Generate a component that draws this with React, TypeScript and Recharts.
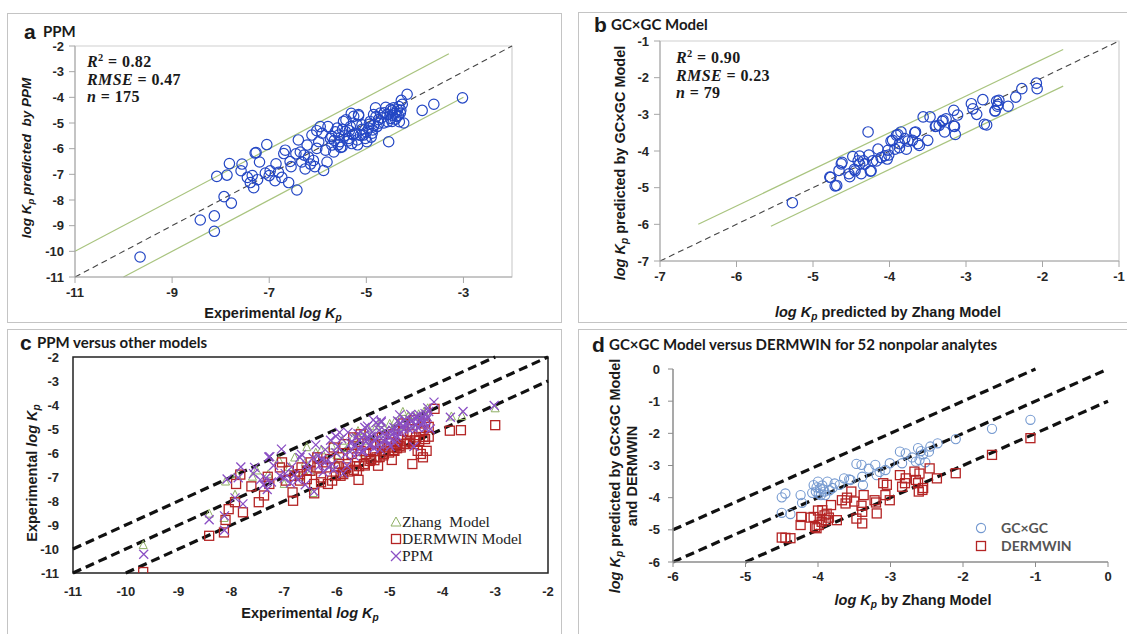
import React from 'react'
import { ScatterChart, Scatter, XAxis, YAxis, ReferenceLine, ReferenceArea } from 'recharts'

type Pt = [number, number]

// panel a: experimental log Kp vs PPM prediction (also the x series of panel c)
const ppmPoints: Pt[] = [
  [-9.66, -10.22], [-8.42, -8.78], [-8.13, -8.62], [-8.13, -9.22], [-7.93, -7.87], [-7.78, -8.12],
  [-8.08, -7.08], [-7.87, -7.03], [-7.82, -6.58], [-7.56, -6.6], [-7.58, -6.86], [-7.45, -7.12],
  [-7.39, -7.32], [-7.32, -7.52], [-7.24, -7.21], [-7.2, -6.52], [-7.29, -6.17], [-7.05, -5.84],
  [-6.98, -6.86], [-6.86, -6.59], [-6.81, -6.92], [-6.88, -7.25], [-6.74, -7.12], [-6.7, -6.19],
  [-6.67, -6.06], [-6.6, -7.32], [-6.57, -6.5], [-6.43, -7.61], [-6.4, -5.66], [-6.36, -6.13],
  [-6.33, -6.52], [-6.26, -6.79], [-6.22, -5.86], [-6.19, -6.33], [-6.12, -5.47], [-6.09, -6.46],
  [-6.02, -5.99], [-5.98, -5.73], [-5.95, -5.14], [-5.91, -5.4], [-5.88, -6.85], [-5.84, -6.06],
  [-5.81, -6.52], [-5.74, -5.6], [-5.71, -5.86], [-5.67, -6.13], [-5.6, -5.2], [-5.57, -5.47],
  [-5.54, -5.73], [-5.5, -5.93], [-5.47, -4.94], [-5.43, -5.33], [-5.36, -5.6], [-5.33, -5.14],
  [-5.3, -5.8], [-5.26, -4.74], [-5.23, -5.4], [-5.19, -5.66], [-5.16, -4.67], [-5.09, -5.07],
  [-5.06, -5.47], [-4.99, -5.73], [-4.95, -5.2], [-4.92, -4.94], [-4.88, -5.4], [-4.85, -4.67],
  [-4.81, -4.41], [-4.78, -5.14], [-4.75, -4.87], [-4.71, -4.61], [-4.64, -5.0], [-4.57, -4.67],
  [-4.54, -5.73], [-4.5, -4.47], [-4.47, -4.94], [-4.44, -4.41], [-4.37, -4.74], [-4.3, -4.61],
  [-4.26, -4.27], [-4.23, -5.0], [-3.85, -4.51], [-3.61, -4.27], [-4.16, -3.88], [-4.28, -4.12],
  [-3.02, -4.02], [-4.33, -4.36], [-4.32, -4.95], [-4.41, -4.62], [-4.47, -4.52], [-4.5, -4.82],
  [-4.6, -4.39], [-4.74, -5.01], [-4.8, -4.75], [-4.87, -5.27], [-4.94, -5.05], [-5.02, -5.6],
  [-5.09, -5.25], [-5.16, -4.72], [-5.2, -5.05], [-5.28, -5.45], [-5.31, -4.62], [-5.38, -5.7],
  [-5.42, -4.88], [-5.49, -5.25], [-5.53, -5.95], [-5.64, -5.34], [-5.71, -5.53], [-5.79, -5.14],
  [-4.36, -4.48], [-4.4, -4.85], [-4.34, -4.7], [-4.29, -4.5], [-4.46, -4.7], [-4.56, -4.95],
  [-4.63, -4.6], [-4.69, -4.8], [-4.85, -5.1], [-4.9, -5.55], [-5.0, -5.35], [-5.12, -5.48],
  [-5.18, -5.85], [-5.35, -5.3], [-5.45, -5.5], [-5.58, -5.85], [-5.66, -5.68], [-6.02, -5.3],
  [-6.06, -6.7], [-6.15, -6.6], [-6.28, -6.25], [-6.45, -6.2], [-6.55, -6.7], [-7.0, -7.05],
  [-7.08, -6.95], [-7.35, -7.05], [-7.27, -6.15],
]

// panel b: Zhang model vs GCxGC model
const gcxgcPoints: Pt[] = [
  [-5.27, -5.41], [-4.78, -4.71], [-4.71, -4.95], [-4.66, -4.53], [-4.63, -4.35], [-4.53, -4.62],
  [-4.48, -4.15], [-4.46, -4.5], [-4.41, -4.27], [-4.39, -4.14], [-4.37, -4.62], [-4.32, -4.35],
  [-4.28, -3.48], [-4.27, -4.11], [-4.25, -4.55], [-4.22, -4.27], [-4.15, -3.95], [-4.11, -4.18],
  [-4.03, -4.22], [-4.01, -4.11], [-3.96, -3.71], [-3.93, -3.95], [-3.91, -3.57], [-3.87, -3.8],
  [-3.85, -3.48], [-3.8, -3.66], [-3.78, -3.95], [-3.7, -3.71], [-3.66, -3.48], [-3.63, -3.8],
  [-3.61, -3.85], [-3.5, -3.71], [-3.56, -3.07], [-3.47, -3.07], [-3.4, -3.33], [-3.35, -3.3],
  [-3.3, -3.16], [-3.28, -3.48], [-3.26, -3.12], [-3.16, -2.89], [-3.15, -3.33], [-3.14, -3.55],
  [-3.11, -3.02], [-2.93, -2.71], [-2.91, -2.85], [-2.86, -3.0], [-2.78, -2.6], [-2.76, -3.27],
  [-2.73, -3.29], [-2.62, -2.91], [-2.59, -2.78], [-2.57, -2.62], [-2.45, -2.78], [-2.35, -2.53],
  [-2.27, -2.3], [-2.08, -2.15], [-2.07, -2.3], [-4.62, -4.31], [-4.52, -4.7], [-4.45, -4.54],
  [-4.39, -4.36], [-4.34, -4.27], [-4.24, -4.54], [-4.17, -4.27], [-4.06, -4.13], [-4.02, -3.98],
  [-3.98, -3.73], [-3.89, -3.55], [-3.87, -3.91], [-3.76, -3.73], [-3.67, -3.5], [-3.39, -3.32],
  [-3.31, -3.19], [-3.16, -3.32], [-2.6, -2.64], [-2.58, -2.73], [-2.62, -2.9], [-4.69, -4.94],
  [-4.77, -4.72],
]

// panel c: Zhang model and DERMWIN against experimental
const zhangPointsC: Pt[] = [
  [-9.67, -9.85], [-8.42, -8.54], [-8.14, -8.72], [-7.93, -7.75], [-8.11, -7.2], [-6.57, -5.77],
  [-6.45, -7.68], [-3.83, -4.49], [-3.63, -4.47], [-3.0, -4.15], [-5.18, -4.77], [-7.52, -6.74],
  [-7.6, -7.0], [-7.3, -6.9], [-7.1, -6.3], [-6.9, -6.6], [-6.8, -6.2], [-6.6, -6.4], [-6.4, -6.0],
  [-6.3, -5.9], [-6.2, -6.3], [-6.1, -5.7], [-6.0, -6.1], [-5.9, -5.5], [-5.8, -5.8], [-5.7, -5.4],
  [-5.6, -5.7], [-5.5, -5.2], [-5.45, -5.5], [-5.4, -5.0], [-5.3, -5.35], [-5.25, -4.9], [-5.1, -5.2],
  [-5.0, -4.8], [-4.95, -5.1], [-4.9, -4.7], [-4.85, -5.0], [-4.8, -4.6], [-4.7, -4.9], [-4.65, -4.5],
  [-4.6, -4.8], [-4.55, -4.45], [-4.5, -4.7], [-4.45, -4.4], [-4.4, -4.6], [-4.35, -4.3], [-4.3, -4.5],
  [-4.28, -4.15], [-6.7, -7.0], [-6.5, -6.8], [-6.0, -6.5], [-5.5, -6.0], [-7.9, -6.9], [-7.0, -7.3],
  [-5.2, -5.6], [-5.6, -5.1], [-4.75, -4.3],
]

const dermwinPointsC: Pt[] = [
  [-9.67, -10.96], [-8.42, -9.45], [-8.14, -9.31], [-8.11, -8.79], [-8.05, -8.34], [-7.93, -8.05],
  [-7.78, -8.47], [-7.83, -6.9], [-7.91, -7.29], [-7.62, -7.39], [-7.48, -8.05], [-7.38, -7.77],
  [-7.28, -7.29], [-7.31, -6.99], [-7.04, -6.39], [-6.97, -7.15], [-6.84, -7.64], [-6.83, -7.99],
  [-6.7, -6.88], [-6.57, -7.09], [-6.43, -7.68], [-6.3, -7.02], [-6.2, -6.6], [-6.09, -7.15],
  [-5.89, -6.81], [-5.59, -7.12], [-5.49, -6.46], [-5.35, -6.25], [-5.22, -6.53], [-5.08, -5.91],
  [-4.96, -6.29], [-4.88, -5.63], [-4.74, -5.08], [-4.57, -6.46], [-4.54, -5.63], [-4.37, -6.18],
  [-4.33, -5.42], [-4.15, -4.16], [-3.86, -5.07], [-3.65, -5.05], [-3.0, -4.84],
  [-6.67, -6.6], [-6.5, -6.74], [-6.37, -6.6], [-6.26, -6.39], [-6.13, -6.25], [-6.03, -6.6],
  [-5.96, -6.18], [-5.79, -6.46], [-5.72, -6.04], [-5.62, -6.18], [-5.55, -5.91], [-5.45, -6.04],
  [-5.42, -5.63], [-5.31, -5.91], [-5.25, -6.18], [-5.18, -5.63], [-5.11, -6.04], [-5.04, -5.77],
  [-4.98, -5.56], [-4.91, -5.91], [-4.84, -5.35], [-4.81, -5.7], [-4.67, -5.49], [-4.61, -5.22],
  [-4.5, -5.35], [-4.47, -5.91], [-4.4, -5.08], [-4.33, -4.77], [-4.3, -5.91], [-4.41, -6.04],
  [-5.62, -6.74], [-5.93, -6.95], [-6.17, -7.29], [-6.3, -7.22], [-6.43, -7.29], [-6.57, -6.74],
  [-6.7, -7.15], [-6.8, -6.95], [-6.91, -6.74], [-7.08, -6.6], [-5.96, -6.46], [-5.82, -6.6],
  [-5.28, -5.63], [-5.15, -5.35], [-4.94, -5.22], [-4.74, -4.77], [-4.54, -4.63], [-4.26, -4.91],
  [-4.26, -5.32], [-6.06, -5.77], [-5.86, -5.63], [-5.69, -5.35], [-5.55, -5.22], [-6.37, -6.18],
  [-6.5, -6.39], [-6.02, -6.93], [-5.88, -6.88], [-5.78, -6.77], [-5.68, -6.7], [-5.58, -6.55],
  [-5.47, -6.52], [-5.38, -6.33], [-5.29, -6.3], [-5.19, -6.17], [-5.12, -6.1], [-5.01, -5.98],
  [-4.93, -5.88], [-4.86, -5.8], [-4.79, -5.77], [-4.73, -5.63], [-4.68, -5.61], [-4.62, -5.52],
  [-4.52, -5.47], [-4.44, -5.5], [-4.36, -5.33],
]

// panel d: 52 nonpolar analytes
const gcxgcPointsD: Pt[] = [
  [-4.5, -3.99], [-4.45, -3.87], [-4.5, -4.47], [-4.38, -4.51], [-4.24, -3.92], [-4.22, -4.16],
  [-4.06, -3.61], [-4.03, -3.81], [-4.0, -3.5], [-3.97, -3.71], [-3.96, -3.92], [-3.91, -3.81],
  [-3.87, -3.5], [-3.84, -3.77], [-3.77, -3.56], [-3.64, -3.4], [-3.57, -3.43], [-3.47, -2.95],
  [-3.4, -2.98], [-3.39, -3.35], [-3.38, -3.61], [-3.21, -2.98], [-3.19, -3.3], [-3.07, -3.14],
  [-3.01, -2.93], [-2.87, -2.57], [-2.84, -2.93], [-2.79, -2.62], [-2.62, -2.46], [-2.65, -2.88],
  [-2.6, -2.83], [-2.47, -2.57], [-2.45, -2.41], [-2.35, -2.31], [-2.1, -2.18], [-1.6, -1.86],
  [-1.07, -1.58], [-4.02, -3.68], [-3.99, -3.88], [-3.94, -3.62], [-3.9, -3.92], [-3.93, -3.74],
  [-4.08, -3.85], [-3.8, -3.7], [-3.7, -3.6], [-3.55, -3.45], [-2.7, -2.75], [-2.55, -2.65],
  [-2.52, -2.9], [-2.58, -2.55], [-3.3, -3.1], [-3.15, -3.2],
]

const dermwinPointsD: Pt[] = [
  [-4.5, -5.24], [-4.38, -5.26], [-4.23, -4.6], [-4.24, -4.85], [-4.06, -4.6], [-4.04, -4.91],
  [-3.99, -4.85], [-3.94, -4.39], [-3.91, -4.55], [-3.89, -4.7], [-3.82, -4.23], [-3.74, -4.7],
  [-3.67, -4.08], [-3.62, -4.18], [-3.54, -3.81], [-3.47, -4.65], [-3.39, -4.44], [-3.39, -4.8],
  [-3.37, -3.92], [-3.22, -4.08], [-3.19, -4.49], [-3.1, -3.55], [-3.07, -3.92], [-3.01, -4.08],
  [-2.87, -3.3], [-2.84, -3.66], [-2.79, -3.4], [-2.67, -3.19], [-2.65, -3.45], [-2.61, -3.81],
  [-2.56, -3.76], [-2.46, -3.09], [-2.36, -3.4], [-2.1, -3.24], [-1.6, -2.67], [-1.07, -2.15],
  [-4.1, -4.62], [-4.02, -4.95], [-3.95, -4.75], [-3.88, -4.5], [-3.85, -4.62], [-4.0, -4.4],
  [-3.6, -4.0], [-3.5, -4.12], [-3.4, -4.25], [-3.2, -4.15], [-2.8, -3.55], [-2.62, -3.55],
  [-2.6, -3.25], [-2.55, -3.7], [-3.05, -3.6], [-4.45, -5.25],
]

const ticksAX = [-11, -9, -7, -5, -3]
const ticksAY = [-11, -10, -9, -8, -7, -6, -5, -4, -3, -2]
const ticksB = [-7, -6, -5, -4, -3, -2, -1]
const ticksC = [-11, -10, -9, -8, -7, -6, -5, -4, -3, -2]
const ticksD = [-6, -5, -4, -3, -2, -1, 0]

const toXY = (pts: Pt[]) => pts.map(([x, y]) => ({ x, y }))

const SANS = '"Liberation Sans", Arial, sans-serif'
const CAL = 'Lato, "Open Sans", sans-serif'
const SERIF = '"Liberation Serif", "DejaVu Serif", serif'

const tickFont = { fontSize: 13, fontWeight: 700, fill: '#262626', fontFamily: SANS }

const circle = (r: number, color: string, w = 1.2) => (p: any) =>
  <circle cx={p.cx} cy={p.cy} r={r} fill="none" stroke={color} strokeWidth={w} />
const square = (s: number, color: string) => (p: any) =>
  <rect x={p.cx - s / 2} y={p.cy - s / 2} width={s} height={s} fill="none" stroke={color} strokeWidth={1.3} />
const triangle = (s: number, color: string) => (p: any) =>
  <path d={`M${p.cx},${p.cy - s * 0.6}L${p.cx + s / 2},${p.cy + s * 0.4}L${p.cx - s / 2},${p.cy + s * 0.4}Z`} fill="none" stroke={color} strokeWidth={1} />
const cross = (s: number, color: string) => (p: any) => (
  <path d={`M${p.cx - s / 2},${p.cy - s / 2}L${p.cx + s / 2},${p.cy + s / 2}M${p.cx + s / 2},${p.cy - s / 2}L${p.cx - s / 2},${p.cy + s / 2}`} stroke={color} strokeWidth={1.3} />
)

const Kp = () => (
  <span>K<span style={{ fontSize: '0.7em', position: 'relative', top: '0.3em' }}>p</span></span>
)

// centred text, optionally turned to read bottom-to-top
const Label = ({ x, y, size = 15, rotate = false, style = {}, children }: any) => (
  <div style={{
    position: 'absolute', left: x, top: y, whiteSpace: 'nowrap', fontSize: size, lineHeight: 1.15,
    transform: `translate(-50%, -50%)${rotate ? ' rotate(-90deg)' : ''}`, fontFamily: SANS, fontWeight: 700,
    color: '#1a1a1a', textAlign: 'center', ...style,
  }}>{children}</div>
)

// left-aligned text, vertically centred on y
const Left = ({ x, y, size = 15, style = {}, children }: any) => (
  <div style={{
    position: 'absolute', left: x, top: y, transform: 'translateY(-50%)', whiteSpace: 'nowrap',
    fontSize: size, lineHeight: 1.15, color: '#1a1a1a', ...style,
  }}>{children}</div>
)

const Stats = ({ x, y, r2, rmse, n }: any) => {
  const st = { fontFamily: SERIF, fontWeight: 700, fontSize: 16, letterSpacing: 0.4 }
  return (
    <>
      <Left x={x} y={y} style={st}><i>R</i><sup style={{ fontSize: '0.65em' }}>2</sup> = {r2}</Left>
      <Left x={x} y={y + 18} style={st}><i>RMSE</i> = {rmse}</Left>
      <Left x={x} y={y + 35} style={st}><i>n</i> = {n}</Left>
    </>
  )
}

const Title = ({ x, y, letter, text }: any) => (
  <>
    <Left x={x} y={y} size={21} style={{ fontFamily: SANS, fontWeight: 700 }}>{letter}</Left>
    <Left x={x + (letter === 'a' ? 19 : 17)} y={y} size={15} style={{ fontFamily: CAL, fontWeight: 700 }}>{text}</Left>
  </>
)

const box = (left: number, top: number, width: number, height: number) => ({
  position: 'absolute' as const, left, top, width, height, boxSizing: 'border-box' as const,
  border: '1.5px solid #c4c4c4',
})

const PanelA = () => (
  <div style={{ position: 'absolute', left: 7, top: 13 }}>
    <ScatterChart width={551} height={310} margin={{ top: 33, right: 46, bottom: 16, left: 28 }}>
      <XAxis type="number" dataKey="x" domain={[-11, -2]} ticks={ticksAX} interval={0} allowDataOverflow
        tick={tickFont} tickSize={6} tickMargin={5} height={30} axisLine={{ stroke: '#a6a6a6' }} tickLine={{ stroke: '#a6a6a6' }} />
      <YAxis type="number" dataKey="y" domain={[-11, -2]} ticks={ticksAY} interval={0} allowDataOverflow
        tick={tickFont} tickSize={6} tickMargin={5} width={40} axisLine={{ stroke: '#a6a6a6' }} tickLine={{ stroke: '#a6a6a6' }} />
      <ReferenceArea x1={-11} x2={-2} y1={-11} y2={-2} fill="none" stroke="#cfcfcf" strokeWidth={1.2} />
      <ReferenceLine segment={[{ x: -11, y: -10 }, { x: -3.3, y: -2.3 }]} stroke="#a9c47f" strokeWidth={1.2} />
      <ReferenceLine segment={[{ x: -10, y: -11 }, { x: -3, y: -4 }]} stroke="#a9c47f" strokeWidth={1.2} />
      <ReferenceLine segment={[{ x: -11, y: -11 }, { x: -2, y: -2 }]} stroke="#444" strokeWidth={1.1} strokeDasharray="6 4" />
      <Scatter data={toXY(ppmPoints)} shape={circle(5.2, '#2447c4')} isAnimationActive={false} />
    </ScatterChart>
  </div>
)

const PanelB = () => (
  <div style={{ position: 'absolute', left: 578, top: 12 }}>
    <ScatterChart width={549} height={311} margin={{ top: 29, right: 8, bottom: 32, left: 42 }}>
      <XAxis type="number" dataKey="x" domain={[-7, -1]} ticks={ticksB} interval={0} allowDataOverflow
        tick={tickFont} tickSize={6} tickMargin={5} height={30} axisLine={{ stroke: '#a6a6a6' }} tickLine={{ stroke: '#a6a6a6' }} />
      <YAxis type="number" dataKey="y" domain={[-7, -1]} ticks={ticksB} interval={0} allowDataOverflow
        tick={tickFont} tickSize={6} tickMargin={5} width={40} axisLine={{ stroke: '#a6a6a6' }} tickLine={{ stroke: '#a6a6a6' }} />
      <ReferenceArea x1={-7} x2={-1} y1={-7} y2={-1} fill="none" stroke="#cfcfcf" strokeWidth={1.2} />
      <ReferenceLine segment={[{ x: -6.5, y: -6 }, { x: -1.73, y: -1.23 }]} stroke="#a9c47f" strokeWidth={1.2} />
      <ReferenceLine segment={[{ x: -5.55, y: -6.05 }, { x: -1.73, y: -2.23 }]} stroke="#a9c47f" strokeWidth={1.2} />
      <ReferenceLine segment={[{ x: -7, y: -7 }, { x: -1, y: -1 }]} stroke="#444" strokeWidth={1.1} strokeDasharray="6 4" />
      <Scatter data={toXY(gcxgcPoints)} shape={circle(5.2, '#2447c4')} isAnimationActive={false} />
    </ScatterChart>
  </div>
)

const thick = { stroke: '#111', strokeWidth: 3.2, strokeDasharray: '9 5' }

const PanelC = () => (
  <div style={{ position: 'absolute', left: 7, top: 329 }}>
    <ScatterChart width={555} height={305} margin={{ top: 28, right: 14, bottom: 31, left: 26 }}>
      <XAxis type="number" dataKey="x" domain={[-11, -2]} ticks={ticksC} interval={0} allowDataOverflow
        tick={tickFont} tickLine={false} tickMargin={8} height={30} axisLine={false} />
      <YAxis type="number" dataKey="y" domain={[-11, -2]} ticks={ticksC} interval={0} allowDataOverflow
        tick={tickFont} tickLine={false} tickMargin={8} width={40} axisLine={false} />
      <ReferenceLine segment={[{ x: -11, y: -10 }, { x: -3, y: -2 }]} {...thick} />
      <ReferenceLine segment={[{ x: -11, y: -11 }, { x: -2, y: -2 }]} {...thick} />
      <ReferenceLine segment={[{ x: -10, y: -11 }, { x: -2, y: -3 }]} {...thick} />
      <Scatter data={toXY(zhangPointsC)} shape={triangle(8, '#8fb064')} isAnimationActive={false} />
      <Scatter data={toXY(dermwinPointsC)} shape={square(9, '#b42424')} isAnimationActive={false} />
      <Scatter data={toXY(ppmPoints)} shape={cross(9, '#8a4fc4')} isAnimationActive={false} />
      <ReferenceArea x1={-11} x2={-2} y1={-11} y2={-2} fill="none" stroke="#222" strokeWidth={1.5} />
    </ScatterChart>
  </div>
)

const PanelD = () => (
  <div style={{ position: 'absolute', left: 578, top: 329 }}>
    <ScatterChart width={549} height={305} margin={{ top: 40, right: 19, bottom: 42, left: 55 }}>
      <XAxis type="number" dataKey="x" domain={[-6, 0]} ticks={ticksD} interval={0} allowDataOverflow
        tick={tickFont} tickSize={5} tickMargin={5} height={30} axisLine={{ stroke: '#8c8c8c', strokeWidth: 1.5 }} tickLine={{ stroke: '#8c8c8c' }} />
      <YAxis type="number" dataKey="y" domain={[-6, 0]} ticks={ticksD} interval={0} allowDataOverflow
        tick={tickFont} tickSize={5} tickMargin={8} width={40} axisLine={{ stroke: '#8c8c8c', strokeWidth: 1.5 }} tickLine={{ stroke: '#8c8c8c' }} />
      <ReferenceLine segment={[{ x: -6, y: -5 }, { x: -1, y: 0 }]} {...thick} />
      <ReferenceLine segment={[{ x: -6, y: -6 }, { x: 0, y: 0 }]} {...thick} />
      <ReferenceLine segment={[{ x: -5, y: -6 }, { x: 0, y: -1 }]} {...thick} />
      <Scatter data={toXY(gcxgcPointsD)} shape={circle(4.6, '#7499d0', 1.1)} isAnimationActive={false} />
      <Scatter data={toXY(dermwinPointsD)} shape={square(9, '#b42424')} isAnimationActive={false} />
    </ScatterChart>
  </div>
)

const LegendMark = ({ x, y, children }: any) => (
  <svg style={{ position: 'absolute', left: x - 7, top: y - 7 }} width={14} height={14}>{children}</svg>
)

export default function App() {
  return (
    <div style={{ position: 'absolute', left: 0, top: 0, width: 1127, height: 634, overflow: 'hidden', background: '#fff' }}>
      <div style={box(7, 13, 555, 310)} />
      <div style={box(578, 12, 560, 311)} />
      <div style={box(7, 329, 555, 320)} />
      <div style={box(578, 329, 560, 320)} />

      <PanelA />
      <PanelB />
      <PanelC />
      <PanelD />

      {/* panel a */}
      <Title x={24} y={32} letter="a" text="PPM" />
      <Stats x={87} y={62} r2="0.82" rmse="0.47" n="175" />
      <Label x={27} y={158} rotate size={13.5} style={{ fontStyle: 'italic' }}>log <Kp /> predicted&nbsp; by PPM</Label>
      <Label x={273} y={313} size={14.5}>Experimental <i>log <Kp /></i></Label>

      {/* panel b */}
      <Title x={594} y={25} letter="b" text="GC×GC Model" />
      <Stats x={676} y={58} r2="0.90" rmse="0.23" n="79" />
      <Label x={620} y={163} rotate size={14.5}><i>log <Kp /></i> predicted by GC×GC Model</Label>
      <Label x={888} y={312} size={14.5}><i>log <Kp /></i> predicted by Zhang Model</Label>

      {/* panel c */}
      <Title x={20} y={343} letter="c" text="PPM versus other models" />
      <Label x={32} y={473} rotate size={14.5}>Experimental <i>log <Kp /></i></Label>
      <Label x={310} y={613} size={14.5}>Experimental <i>log <Kp /></i></Label>
      <LegendMark x={396} y={522}><path d="M7,2L12,11L2,11Z" fill="none" stroke="#8fb064" strokeWidth={1} /></LegendMark>
      <Left x={402} y={522} size={15.5} style={{ fontFamily: SERIF, color: '#222' }}>Zhang&nbsp; Model</Left>
      <LegendMark x={396} y={539}><rect x={2.5} y={2.5} width={9} height={9} fill="none" stroke="#b42424" strokeWidth={1.3} /></LegendMark>
      <Left x={402} y={539} size={15.5} style={{ fontFamily: SERIF, color: '#222' }}>DERMWIN Model</Left>
      <LegendMark x={396} y={556}><path d="M2,2L12,12M12,2L2,12" stroke="#8a4fc4" strokeWidth={1.3} /></LegendMark>
      <Left x={402} y={556} size={15.5} style={{ fontFamily: SERIF, color: '#222' }}>PPM</Left>

      {/* panel d */}
      <Title x={592} y={345} letter="d" text="GC×GC Model versus DERMWIN for 52 nonpolar analytes" />
      <Label x={624} y={476} rotate size={14.5}><i>log <Kp /></i> predicted by GC×GC Model<br />and DERMWIN</Label>
      <Label x={913} y={600} size={14.5}><i>log <Kp /></i> by Zhang Model</Label>
      <LegendMark x={981} y={528}><circle cx={7} cy={7} r={4.6} fill="none" stroke="#7499d0" strokeWidth={1.1} /></LegendMark>
      <Left x={1001} y={528} size={14} style={{ fontFamily: CAL, color: '#555', fontWeight: 700 }}>GC×GC</Left>
      <LegendMark x={981} y={546}><rect x={2.5} y={2.5} width={9} height={9} fill="none" stroke="#b42424" strokeWidth={1.3} /></LegendMark>
      <Left x={1001} y={546} size={14} style={{ fontFamily: CAL, color: '#555', fontWeight: 700 }}>DERMWIN</Left>
    </div>
  )
}
